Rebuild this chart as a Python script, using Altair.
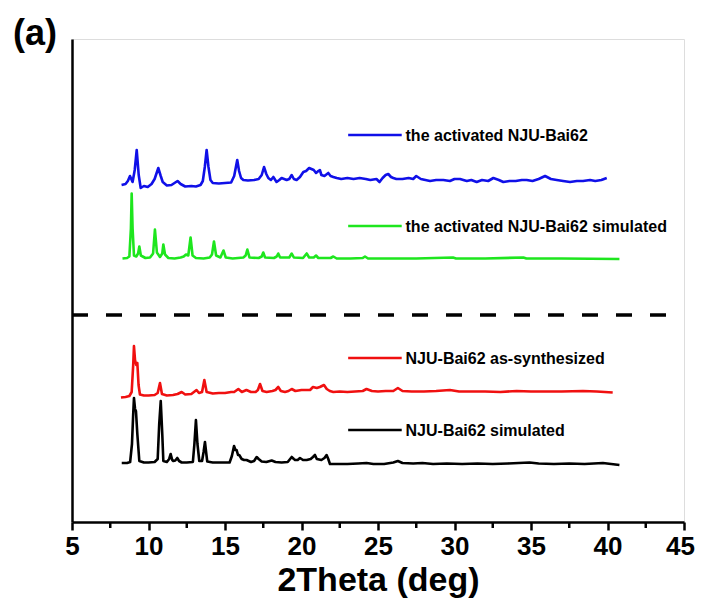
import altair as alt
import pandas as pd

# ---------------- data ----------------
# 2theta positions and relative intensities of each pattern (baseline ~ 0)
blue_x = [8.24, 8.5, 8.65, 8.79, 8.96, 9.1, 9.23, 9.36, 9.49, 9.7, 9.95, 10.2, 10.4, 10.64, 10.8, 10.93,
          11.2, 11.5, 11.7, 11.9, 12.1, 12.4, 12.8, 13.1, 13.4, 13.55, 13.68, 13.8, 13.92, 14.05, 14.2,
          14.6, 15.0, 15.4, 15.6, 15.8, 15.92, 16.05, 16.2, 16.5, 16.9, 17.2, 17.4, 17.55, 17.7, 17.83,
          18.0, 18.16, 18.37, 18.55, 18.7, 19.03, 19.2, 19.36, 19.5, 19.68, 19.9, 20.12, 20.3, 20.5,
          20.65, 20.8, 20.95, 21.1, 21.2, 21.3, 21.5, 21.75, 21.9, 22.08, 22.3, 22.6, 23.0, 23.4, 23.8,
          24.2, 24.5, 24.9, 25.1, 25.3, 25.5, 25.67, 25.85, 26.0, 26.2, 26.6, 27.0, 27.3, 27.5, 27.8,
          28.1, 28.4, 28.8, 29.27, 29.7, 30.0, 30.36, 30.8, 31.1, 31.45, 31.8, 32.2, 32.54, 32.9, 33.19,
          33.6, 34.0, 34.4, 34.72, 35.1, 35.5, 35.92, 36.3, 36.68, 37.1, 37.55, 38.0, 38.4, 38.86, 39.2,
          39.6, 39.95]
blue_i = [0, 1, 4, 9, 3, 15, 35, 10, -3, -1, -2, 1, 6, 17, 9, 3,
          -0.5, 0, 2, 4, 1, -1.5, -1, -1.5, 0, 4, 18, 35, 18, 5, 2,
          1.5, 2, 2.5, 9, 25, 14, 7, 5, 4.5, 5, 6, 10, 18, 11, 7,
          5, 8, 3, 5, 7, 5, 6, 10, 6, 5, 8, 13, 14, 17,
          16, 15, 12, 14, 15, 10, 9, 12, 9, 8, 7, 6, 7, 6, 7,
          6, 5, 6, 3, 7, 10, 11, 8, 7, 6, 6, 7, 6, 9, 6,
          5, 4, 5, 5, 4, 6, 6, 4, 5, 3, 5, 4, 7, 5, 3,
          4, 4, 5, 5, 4, 6, 9, 6, 5, 4, 3, 4, 4, 5, 4,
          5, 7]

green_x = [8.3, 8.6, 8.75, 8.85, 8.9, 8.96, 9.05, 9.2, 9.32, 9.4, 9.5, 9.8, 10.1, 10.3, 10.42, 10.55,
           10.75, 10.9, 10.97, 11.08, 11.3, 11.7, 12.1, 12.3, 12.45, 12.6, 12.75, 12.88, 13.1, 13.6,
           14.0, 14.15, 14.28, 14.42, 14.7, 14.9, 15.05, 15.5, 16.2, 16.35, 16.46, 16.6, 17.2, 17.4,
           17.5, 17.62, 18.2, 18.38, 18.48, 18.6, 19.2, 19.36, 19.5, 20.1, 20.34, 20.5, 20.8, 20.95,
           21.1, 21.9, 22.08, 22.3, 23.2, 24.0, 24.15, 24.35, 26.0, 27.5, 29.9, 30.1, 32.0, 34.5, 34.7,
           37.0, 40.78]
green_i = [0, 0.5, 2, 30, 65, 30, 3, 2, 5, 12, 3, 0.5, 1, 5, 29, 6,
           1.5, 5, 14, 4, 0.5, 0, 1, 2, 4, 3, 21, 3, 0.5, 0,
           1, 4, 17, 3, 1, 8, 1, 0, 1, 3, 9, 1, 0.5, 2,
           6, 1, 0.5, 2, 5, 1, 1, 5, 1, 0.5, 5, 1, 1, 3,
           0.5, 0.5, 2, 0, 0, 0.5, 2, 0, 0, 0, 1, 0, 0, 1, 0,
           0, -0.5]

red_x = [8.2, 8.5, 8.75, 8.9, 9.0, 9.05, 9.12, 9.2, 9.27, 9.35, 9.44, 9.7, 10.0, 10.4, 10.6, 10.75,
         10.88, 11.2, 11.6, 11.9, 12.17, 12.4, 12.8, 13.14, 13.3, 13.5, 13.65, 13.8, 14.2, 14.6, 15.0,
         15.4, 15.6, 15.87, 16.1, 16.4, 16.7, 17.0, 17.15, 17.29, 17.45, 17.72, 18.1, 18.3, 18.48,
         18.65, 18.92, 19.15, 19.36, 19.6, 20.0, 20.3, 20.56, 20.75, 21.0, 21.2, 21.47, 21.65, 21.85,
         22.08, 22.5, 23.0, 23.5, 24.0, 24.25, 24.6, 25.0, 25.5, 26.0, 26.3, 26.6, 27.2, 28.0, 28.8,
         29.7, 30.3, 31.0, 32.0, 33.0, 34.06, 35.0, 36.0, 37.0, 38.4, 39.3, 40.34]
red_i = [-2.5, -2, -1, 3, 30, 49, 35, 30, 32, 10, 0.5, -0.5, -0.5, 0, 2, 12,
         1, -0.5, 0, 1, 3, 0.5, 1, 5, 2, 3, 15, 3, 1.5, 2, 2,
         3, 3, 6, 3, 5, 3, 3, 5, 11, 4, 3, 4, 5, 8,
         4, 3, 4, 6, 4, 5, 5, 5, 8, 7, 8, 10, 6, 4,
         3, 3.5, 3, 3.5, 4, 6, 4, 3.5, 4, 4, 7, 4, 3.5, 3.5, 4,
         5, 3.5, 3.5, 3.5, 3, 4, 3.5, 3.5, 3.5, 4, 3.5, 2.5]

black_x = [8.25, 8.6, 8.8, 8.92, 9.0, 9.05, 9.12, 9.18, 9.27, 9.4, 9.7, 10.0, 10.4, 10.6, 10.7, 10.8,
           10.9, 10.97, 11.2, 11.35, 11.45, 11.55, 11.62, 11.75, 11.88, 12.0, 12.17, 12.5, 12.9, 13.0,
           13.1, 13.2, 13.32, 13.5, 13.6, 13.69, 13.78, 13.84, 14.2, 14.8, 15.3, 15.45, 15.59, 15.68,
           15.76, 15.85, 15.93, 16.09, 16.25, 16.41, 16.7, 16.9, 17.07, 17.2, 17.4, 17.7, 18.05, 18.3,
           18.7, 19.1, 19.36, 19.5, 19.58, 19.75, 19.9, 20.1, 20.34, 20.6, 20.75, 20.88, 21.0, 21.3,
           21.5, 21.64, 21.75, 21.86, 22.3, 23.0, 23.7, 24.25, 24.7, 25.4, 26.0, 26.3, 26.6, 27.3, 27.9,
           28.6, 29.5, 30.5, 31.5, 32.5, 33.5, 34.9, 35.5, 36.5, 37.5, 38.5, 39.7, 40.78]
black_i = [1, 1, 2, 20, 50, 66, 55, 53, 30, 3, 1.5, 1.5, 2, 5, 40, 63,
           30, 3, 2, 5, 10, 4, 3, 3.5, 6, 3, 1.5, 1.5, 2, 20,
           44, 20, 3, 3, 12, 22, 10, 2.5, 1.5, 1.5, 1.5, 8, 18, 14,
           14, 9, 9, 5, 4, 4, 2, 3, 7, 5, 2.5, 2, 3.5, 2,
           1.5, 2, 7, 5, 4, 4, 6, 4, 4, 5, 7, 9, 5, 4,
           6, 9, 5, 0, 0, 0, 0.5, 1, 0, 0, 1.5, 3, 1, 0.5, 1,
           0, 0.5, 0, 0.5, 0, 0.5, 1.5, 0.5, 0, 0.5, 0, 1, -1]

series_names = ["the activated NJU-Bai62",
                "the activated NJU-Bai62 simulated",
                "NJU-Bai62 as-synthesized",
                "NJU-Bai62 simulated"]
series_colors = ["#1010e8", "#1ee61e", "#f01010", "#000000"]
series_offsets = [337, 263.5, 127, 58]          # vertical stacking offsets
legend_levels = [387, 296, 164, 92]             # legend entry heights (same units)
legend_x = [23.05, 26.55]                       # legend line start / end (2theta)
legend_text_x = 26.8
divider_level = 207                             # dashed separator line
x_ticks = [5, 10, 15, 20, 25, 30, 35, 40, 45]
x_minor = [7.5, 12.5, 17.5, 22.5, 27.5, 32.5, 37.5, 42.5]
panel_label = ["(a)"]

# ---------------- build tables ----------------
xs = [blue_x, green_x, red_x, black_x]
ys = [blue_i, green_i, red_i, black_i]
rows = []
for name, x, y, off in zip(series_names, xs, ys, series_offsets):
    for a, b in zip(x, y):
        rows.append({"theta": a, "y": b + off, "series": name})
df = pd.DataFrame(rows)

leg = pd.DataFrame({"series": series_names, "x1": [legend_x[0]] * 4, "x2": [legend_x[1]] * 4,
                    "tx": [legend_text_x] * 4, "y": legend_levels})

FONT = "Liberation Sans"
xscale = alt.Scale(domain=[5, 45], nice=False, zero=False)
yscale = alt.Scale(domain=[0, 483], nice=False, zero=False)
color = alt.Color("series:N", scale=alt.Scale(domain=series_names, range=series_colors), legend=None)

lines = alt.Chart(df).mark_line(strokeWidth=2.6, strokeJoin="round").encode(
    x=alt.X("theta:Q", scale=xscale,
            axis=alt.Axis(values=x_ticks, title="2Theta (deg)", grid=False, tickSize=8, tickWidth=2.5,
                          tickColor="black", domainColor="black", domainWidth=2.5, labelFont=FONT,
                          labelFontSize=26, labelFontWeight="bold", labelColor="black", labelPadding=3,
                          labelOffset={"condition": {"test": "datum.value == 45", "value": -4}, "value": 0},
                          titleFont=FONT, titleFontSize=34, titleFontWeight="bold", titleColor="black",
                          titlePadding=4, labelFlush=False, labelOverlap=False)),
    y=alt.Y("y:Q", scale=yscale,
            axis=alt.Axis(title=None, labels=False, ticks=False, grid=False, domainColor="black",
                          domainWidth=2.5)),
    color=color,
    detail="series:N",
)

legend_lines = alt.Chart(leg).mark_rule(strokeWidth=2.6).encode(
    x=alt.X("x1:Q", scale=xscale), x2="x2:Q", y=alt.Y("y:Q", scale=yscale), color=color)

legend_text = alt.Chart(leg).mark_text(align="left", baseline="middle", font=FONT, fontSize=16,
                                       fontWeight="bold", color="black", dy=1).encode(
    x=alt.X("tx:Q", scale=xscale), y=alt.Y("y:Q", scale=yscale), text="series:N")

divider = alt.Chart(pd.DataFrame({"y": [divider_level], "x1": [5], "x2": [45]})).mark_rule(
    strokeWidth=3.5, strokeDash=[16, 18], color="black").encode(
    x=alt.X("x1:Q", scale=xscale), x2="x2:Q", y=alt.Y("y:Q", scale=yscale))

minor = alt.Chart(pd.DataFrame({"m": x_minor})).mark_rule(strokeWidth=2.5, color="black").encode(
    x=alt.X("m:Q", scale=xscale), y=alt.value(483), y2=alt.value(489))

label = alt.Chart(pd.DataFrame({"t": panel_label})).mark_text(
    align="left", baseline="middle", font=FONT, fontSize=36, fontWeight="bold", color="black").encode(
    x=alt.value(-59), y=alt.value(-5), text="t:N")

chart = alt.layer(divider, lines, legend_lines, legend_text, minor, label).properties(
    width=612, height=483,
    autosize=alt.AutoSizeParams(type="none"),
    padding={"left": 64, "top": 31, "right": 11, "bottom": 80},
).configure_view(stroke="black", strokeWidth=2.5).configure(background="white")

chart.save("out.html", embed_options={"renderer": "svg", "actions": False})
